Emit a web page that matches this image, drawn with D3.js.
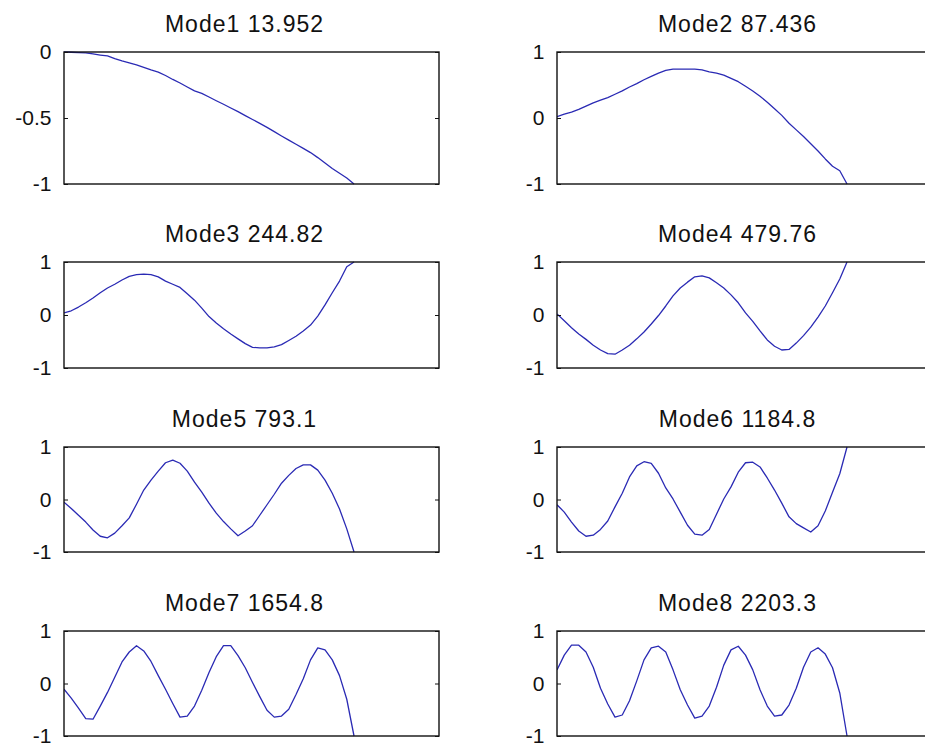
<!DOCTYPE html>
<html>
<head>
<meta charset="utf-8">
<script src="https://cdn.jsdelivr.net/npm/d3@7"></script>
<style>
  html, body { margin: 0; padding: 0; background: #ffffff; }
  svg { display: block; }
  text { font-family: "Liberation Sans", Arial, sans-serif; fill: #111; }
</style>
</head>
<body>
<svg id="chart" width="925" height="747"></svg>
<script>
// ---------------- data ----------------
const modeNames = ["Mode1", "Mode2", "Mode3", "Mode4", "Mode5", "Mode6", "Mode7", "Mode8"];
const frequencies = ["13.952", "87.436", "244.82", "479.76", "793.1", "1184.8", "1654.8", "2203.3"];

// shared positions along the beam (0 = root, 1 = tip), 41 stations
const xPositions = [0,0.025,0.05,0.075,0.1,0.125,0.15,0.175,0.2,0.225,0.25,0.275,0.3,0.325,0.35,0.375,0.4,0.425,0.45,0.475,0.5,0.525,0.55,0.575,0.6,0.625,0.65,0.675,0.7,0.725,0.75,0.775,0.8,0.825,0.85,0.875,0.9,0.925,0.95,0.975,1];

const mode1 = [0,-0.002,-0.004,-0.006,-0.015,-0.023,-0.03,-0.05,-0.068,-0.083,-0.098,-0.117,-0.136,-0.152,-0.178,-0.208,-0.235,-0.265,-0.295,-0.314,-0.341,-0.369,-0.396,-0.424,-0.452,-0.482,-0.511,-0.541,-0.571,-0.603,-0.636,-0.668,-0.699,-0.73,-0.762,-0.8,-0.841,-0.883,-0.919,-0.955,-1.0];
const mode2 = [0.02,0.06,0.09,0.13,0.18,0.23,0.27,0.31,0.36,0.41,0.47,0.52,0.58,0.63,0.68,0.72,0.74,0.74,0.74,0.74,0.73,0.70,0.68,0.65,0.60,0.55,0.48,0.41,0.33,0.24,0.14,0.04,-0.08,-0.18,-0.28,-0.39,-0.50,-0.62,-0.73,-0.80,-1.0];
const mode3 = [0.04,0.08,0.15,0.23,0.32,0.42,0.51,0.58,0.66,0.73,0.76,0.77,0.76,0.72,0.64,0.58,0.52,0.40,0.28,0.13,-0.03,-0.15,-0.26,-0.36,-0.45,-0.54,-0.61,-0.62,-0.62,-0.60,-0.56,-0.48,-0.40,-0.30,-0.19,-0.02,0.19,0.42,0.64,0.91,1.0];
const mode4 = [0.02,-0.11,-0.24,-0.36,-0.46,-0.57,-0.66,-0.73,-0.74,-0.66,-0.57,-0.45,-0.32,-0.17,-0.01,0.17,0.36,0.51,0.62,0.72,0.74,0.70,0.61,0.51,0.38,0.23,0.04,-0.12,-0.30,-0.47,-0.59,-0.66,-0.65,-0.53,-0.39,-0.23,-0.04,0.17,0.42,0.68,1.0];
const mode5 = [-0.05,-0.17,-0.30,-0.43,-0.58,-0.70,-0.73,-0.64,-0.50,-0.35,-0.09,0.18,0.37,0.54,0.70,0.75,0.69,0.54,0.33,0.14,-0.07,-0.26,-0.42,-0.56,-0.69,-0.60,-0.50,-0.30,-0.10,0.10,0.31,0.46,0.59,0.66,0.66,0.56,0.37,0.12,-0.18,-0.56,-1.0];
const mode6 = [-0.10,-0.24,-0.43,-0.60,-0.70,-0.68,-0.57,-0.41,-0.14,0.12,0.43,0.64,0.72,0.69,0.50,0.22,0.01,-0.24,-0.49,-0.66,-0.68,-0.57,-0.28,0.01,0.24,0.52,0.70,0.71,0.62,0.41,0.18,-0.07,-0.33,-0.46,-0.54,-0.62,-0.50,-0.22,0.14,0.49,1.0];
const mode7 = [-0.11,-0.28,-0.47,-0.67,-0.68,-0.43,-0.17,0.12,0.41,0.60,0.72,0.62,0.42,0.15,-0.11,-0.38,-0.64,-0.62,-0.43,-0.13,0.21,0.51,0.72,0.72,0.53,0.30,0.02,-0.25,-0.51,-0.64,-0.62,-0.49,-0.21,0.09,0.45,0.68,0.64,0.45,0.15,-0.30,-1.0];
const mode8 = [0.26,0.54,0.73,0.73,0.60,0.31,-0.09,-0.39,-0.64,-0.60,-0.33,0.05,0.45,0.68,0.71,0.60,0.26,-0.12,-0.41,-0.66,-0.62,-0.43,-0.07,0.35,0.64,0.71,0.54,0.26,-0.12,-0.43,-0.62,-0.60,-0.41,-0.09,0.31,0.60,0.68,0.56,0.30,-0.18,-1.0];

const yDomains = [[-1, 0], [-1, 1], [-1, 1], [-1, 1], [-1, 1], [-1, 1], [-1, 1], [-1, 1]];
const yTickValues = [[0, -0.5, -1], [-1, 0, 1], [-1, 0, 1], [-1, 0, 1], [-1, 0, 1], [-1, 0, 1], [-1, 0, 1], [-1, 0, 1]];
const xDomain = [0, 1.293];

const modeValues = [mode1, mode2, mode3, mode4, mode5, mode6, mode7, mode8];

// ---------------- layout ----------------
const colLeft = [64, 557];
const boxWidth = 375;
const rowTop = [52, 262, 447, 631];
const rowHeight = [132, 106, 105, 105];

const svg = d3.select("#chart");
svg.append("rect").attr("width", 925).attr("height", 747).attr("fill", "#fff");

const tickFmt = v => (v === -0.5 ? "-0.5" : String(v));

modeValues.forEach((vals, k) => {
  const col = k % 2, row = Math.floor(k / 2);
  const x0 = colLeft[col], y0 = rowTop[row], h = rowHeight[row];
  const g = svg.append("g").attr("transform", `translate(${x0},${y0})`);

  const x = d3.scaleLinear().domain(xDomain).range([0, boxWidth]);
  const y = d3.scaleLinear().domain(yDomains[k]).range([h, 0]);

  const clipId = "clip" + k;
  g.append("clipPath").attr("id", clipId)
    .append("rect").attr("x", 0).attr("y", -1).attr("width", boxWidth).attr("height", h + 2);

  const pts = xPositions.map((xv, i) => [xv, vals[i]]);
  const line = d3.line().x(d => x(d[0])).y(d => y(d[1]));
  g.append("path")
    .datum(pts)
    .attr("d", line)
    .attr("clip-path", `url(#${clipId})`)
    .attr("fill", "none")
    .attr("stroke", "#2a2ab4")
    .attr("stroke-width", 1.3)
    .attr("stroke-linejoin", "round");

  // left axis with inward ticks and labels
  const axL = d3.axisLeft(y).tickValues(yTickValues[k]).tickFormat(tickFmt)
    .tickSizeInner(-4).tickSizeOuter(0).tickPadding(12.5);
  const gl = g.append("g").call(axL);
  gl.select(".domain").remove();
  gl.selectAll(".tick line").attr("stroke", "#111");
  gl.selectAll(".tick text")
    .attr("font-size", 21)
    .attr("font-family", "Liberation Sans, Arial, sans-serif")
    .attr("fill", "#111");

  // right axis inward ticks, no labels
  const axR = d3.axisRight(y).tickValues(yTickValues[k]).tickFormat("")
    .tickSizeInner(-4).tickSizeOuter(0);
  const gr = g.append("g").attr("transform", `translate(${boxWidth},0)`).call(axR);
  gr.select(".domain").remove();
  gr.selectAll(".tick line").attr("stroke", "#111");

  // box
  g.append("rect")
    .attr("x", 0).attr("y", 0).attr("width", boxWidth).attr("height", h)
    .attr("fill", "none").attr("stroke", "#111").attr("stroke-width", 1.4);

  // title
  g.append("text")
    .attr("x", boxWidth / 2 - 7)
    .attr("y", -20)
    .attr("text-anchor", "middle")
    .attr("font-size", 23)
    .attr("letter-spacing", 1)
    .text(modeNames[k] + " " + frequencies[k]);
});
</script>
</body>
</html>
